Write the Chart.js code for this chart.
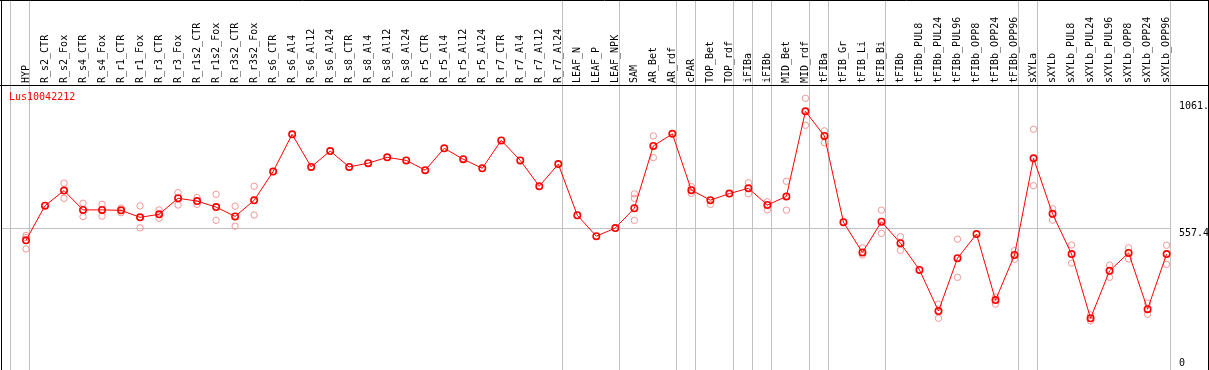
<!DOCTYPE html>
<html><head><meta charset="utf-8">
<script src="https://cdn.jsdelivr.net/npm/chart.js@4"></script>
<style>html,body{margin:0;padding:0;background:#fff;overflow:hidden}canvas{display:block}</style>
</head><body>
<canvas id="c" width="1209" height="370"></canvas>
<script>
const categories = ['HYP','R_s2_CTR','R_s2_Fox','R_s4_CTR','R_s4_Fox','R_r1_CTR','R_r1_Fox','R_r3_CTR','R_r3_Fox',
  'R_r1s2_CTR','R_r1s2_Fox','R_r3s2_CTR','R_r3s2_Fox','R_s6_CTR','R_s6_Al4','R_s6_Al12','R_s6_Al24',
  'R_s8_CTR','R_s8_Al4','R_s8_Al12','R_s8_Al24','R_r5_CTR','R_r5_Al4','R_r5_Al12','R_r5_Al24',
  'R_r7_CTR','R_r7_Al4','R_r7_Al12','R_r7_Al24','LEAF_N','LEAF_P','LEAF_NPK','SAM','AR_Bet','AR_rdf',
  'cPAR','TOP_Bet','TOP_rdf','iFIBa','iFIBb','MID_Bet','MID_rdf','tFIBa','tFIB_Gr','tFIB_Li','tFIB_Bi',
  'tFIBb','tFIBb_PUL8','tFIBb_PUL24','tFIBb_PUL96','tFIBb_OPP8','tFIBb_OPP24','tFIBb_OPP96',
  'sXYLa','sXYLb','sXYLb_PUL8','sXYLb_PUL24','sXYLb_PUL96','sXYLb_OPP8','sXYLb_OPP24','sXYLb_OPP96'];
const means = [506,655,720,637,637,635,605,618,687,675,649,609,678,802,962,822,890,
  822,838,863,850,808,902,855,816,936,850,739,834,614,524,559,644,912,964,
  722,679,707,730,658,695,1061,955,584,454,586,
  494,379,202,429,533,249,443,
  859,620,447,171,375,452,210,447];
const rep1 = [527,null,752,666,661,645,654,637,711,690,704,653,739,null,null,null,null,
  null,null,null,null,null,null,null,null,null,null,null,null,null,null,null,706,955,null,
  737,661,null,754,672,760,1117,977,null,474,636,
  522,null,232,511,null,263,462,
  984,642,486,185,400,474,236,485];
const rep2 = [469,null,687,608,610,625,560,601,658,661,592,567,615,null,null,null,null,
  null,null,null,null,null,null,null,null,null,null,null,null,null,null,null,592,862,null,
  708,null,null,706,637,636,1001,926,null,443,536,
  463,null,171,347,null,232,425,
  741,593,408,160,347,426,188,403];
const rep3 = [518,null,null,null,null,null,null,null,null,null,null,null,null,null,null,null,null,
  null,null,null,null,null,null,null,null,null,null,null,null,null,null,null,687,null,null,
  null,null,null,null,null,null,null,null,null,null,null,
  null,null,null,null,null,null,null,
  null,null,null,null,null,null,null,null];
const groupEnds = [-1,0,28,31,34,35,37,38,39,41,42,45,52,53,60];
const yTickValues = [0, 557.4, 1061];
const yTickLabels = ['0', '557.4', '1061.'];
const geneName = 'Lus10042212';

const FONT = {family: "'DejaVu Sans Mono', monospace", size: 10};
const GRID = '#c0c0c0';
const boundaryOffset = 0.2;
const xMin = -1.2625, xMax = 60.231;
const yMin = -51.6, yMax = 1174.2;

const repData = [];
[rep1, rep2, rep3].forEach(r => r.forEach((v, i) => { if (v !== null) repData.push({x: i, y: v}); }));

const frame = {
  id: 'frame',
  afterLayout(chart) {
    const a = chart.scales.y, b = chart.scales.y2;
    b.left = a.left; b.right = a.right; b.width = a.width;
  },
  afterDraw(chart) {
    const ctx = chart.ctx, W = chart.width, H = chart.height, ca = chart.chartArea;
    ctx.save();
    ctx.strokeStyle = '#000'; ctx.lineWidth = 1;
    ctx.beginPath();
    ctx.moveTo(1.5, 0); ctx.lineTo(1.5, H);
    ctx.moveTo(0, 0.5); ctx.lineTo(W, 0.5);
    ctx.moveTo(W - 0.5, 0); ctx.lineTo(W - 0.5, H);
    ctx.moveTo(0, Math.round(ca.top) + 0.5); ctx.lineTo(W, Math.round(ca.top) + 0.5);
    ctx.stroke();
    ctx.fillStyle = '#ff0000';
    ctx.font = "10px 'DejaVu Sans Mono', monospace";
    ctx.textBaseline = 'middle'; ctx.textAlign = 'left';
    ctx.fillText(geneName, 9, ca.top + 12.5);
    ctx.restore();
  }
};

new Chart(document.getElementById('c'), {
  type: 'line',
  data: {
    datasets: [
      {
        label: geneName,
        data: means.map((v, i) => ({x: i, y: v})),
        borderColor: '#ff0000', borderWidth: 1,
        pointRadius: 3.2, pointBorderWidth: 1.6,
        pointBorderColor: '#ff0000', pointBackgroundColor: 'rgba(0,0,0,0)',
        tension: 0, fill: false
      },
      {
        label: 'replicates',
        data: repData,
        showLine: false,
        pointRadius: 3.2, pointBorderWidth: 1,
        pointBorderColor: 'rgb(240,150,150)', pointBackgroundColor: 'rgba(0,0,0,0)'
      }
    ]
  },
  options: {
    responsive: false, animation: false, devicePixelRatio: 1,
    layout: {autoPadding: false, padding: {left: 2, right: 0, top: 0, bottom: 0}},
    plugins: {legend: {display: false}, tooltip: {enabled: false}},
    scales: {
      x: {
        type: 'linear', position: 'top', min: xMin, max: xMax,
        afterBuildTicks: s => {
          s.ticks = categories.map((c, i) => ({value: i}))
            .concat(groupEnds.map(g => ({value: g + boundaryOffset})))
            .sort((a, b) => a.value - b.value);
        },
        afterFit: s => { s.height = 85; s.paddingLeft = 0; s.paddingRight = 0; },
        grid: {
          color: ctx => (ctx.tick && !Number.isInteger(ctx.tick.value)) ? GRID : 'rgba(0,0,0,0)',
          tickLength: 85, drawTicks: true, lineWidth: 1
        },
        border: {color: '#000', width: 1},
        ticks: {
          autoSkip: false, minRotation: 90, maxRotation: 90, padding: -83, labelOffset: 12,
          color: '#000', font: FONT,
          callback: v => Number.isInteger(v) ? categories[v] : ''
        }
      },
      y: {
        type: 'linear', position: 'right', weight: 0, min: yMin, max: yMax,
        afterBuildTicks: s => { s.ticks = yTickValues.slice(0, 2).map(v => ({value: v})); },
        afterFit: s => { s.width = 38; s.paddingTop = 0; s.paddingBottom = 0; },
        grid: {
          color: ctx => (ctx.tick && ctx.tick.value === yTickValues[1]) ? GRID : 'rgba(0,0,0,0)',
          drawTicks: false, lineWidth: 1
        },
        border: {display: false},
        ticks: {align: 'start', padding: 8, color: '#000', font: FONT,
          callback: v => yTickLabels[yTickValues.indexOf(v)]}
      },
      y2: {
        type: 'linear', position: 'right', weight: 1, min: yMin, max: yMax,
        afterBuildTicks: s => { s.ticks = [{value: yTickValues[2]}]; },
        afterFit: s => { s.width = 0; s.paddingTop = 0; s.paddingBottom = 0; },
        grid: {display: false, drawTicks: false}, border: {display: false},
        ticks: {align: 'end', padding: 8, color: '#000', font: FONT, callback: () => yTickLabels[2]}
      }
    }
  },
  plugins: [frame]
});
</script>
</body></html>
